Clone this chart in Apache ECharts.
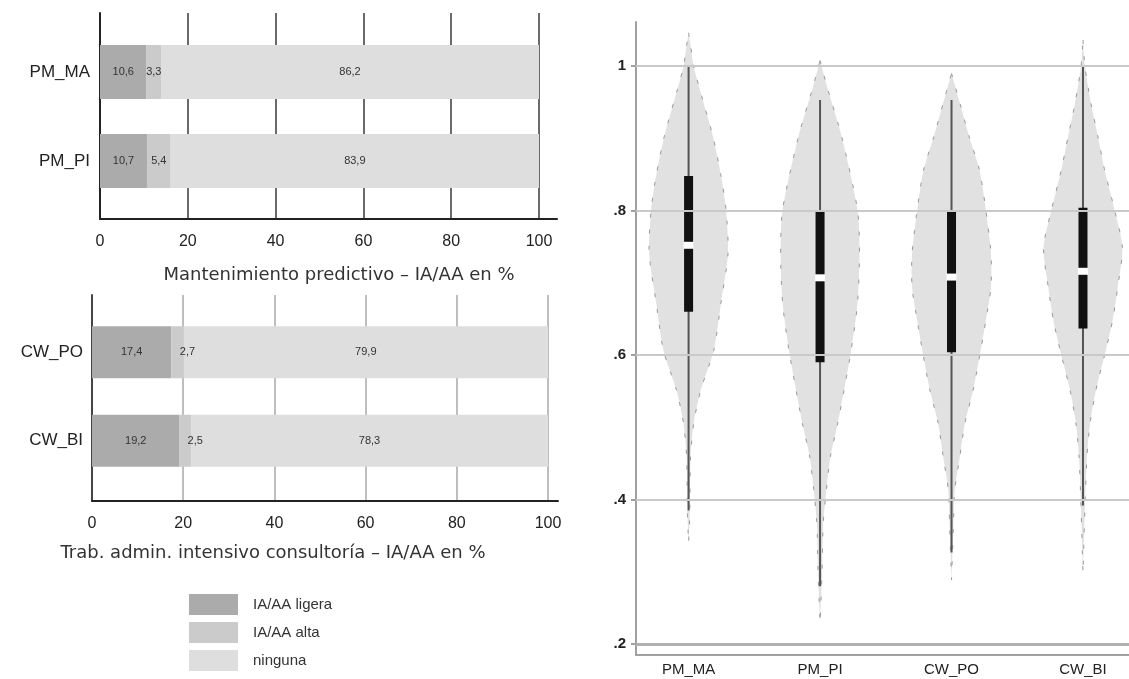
<!DOCTYPE html>
<html>
<head>
<meta charset="utf-8">
<script src="https://cdn.jsdelivr.net/npm/echarts@6/dist/echarts.min.js"></script>
<style>
html, body { margin: 0; padding: 0; background: #fff; }
#chart { width: 1129px; height: 679px; }
</style>
</head>
<body>
<div id="chart"></div>
<script>
// barras - mantenimiento predictivo
var catsPM = ["PM_MA", "PM_PI"];
var ligeraPM = [10.6, 10.7];
var altaPM = [3.3, 5.4];
var ningunaPM = [86.2, 83.9];

// barras - trabajo administrativo
var catsCW = ["CW_PO", "CW_BI"];
var ligeraCW = [17.4, 19.2];
var altaCW = [2.7, 2.5];
var ningunaCW = [79.9, 78.3];

// violines
var violinCats = ["PM_MA", "PM_PI", "CW_PO", "CW_BI"];
var q1 = [0.660, 0.590, 0.604, 0.637];
var medians = [0.752, 0.707, 0.708, 0.716];
var q3 = [0.848, 0.801, 0.801, 0.804];
var whiskLo = [0.385, 0.280, 0.327, 0.392];
var whiskHi = [1.0, 0.953, 0.953, 1.0];
// perfil de densidad (y, ancho relativo)
var densY = [
  [1.046, 1.029, 0.999, 0.953, 0.902, 0.849, 0.801, 0.741, 0.672, 0.607, 0.552, 0.506, 0.459, 0.381, 0.340],
  [1.008, 0.971, 0.902, 0.801, 0.741, 0.672, 0.607, 0.552, 0.506, 0.459, 0.413, 0.367, 0.298, 0.229],
  [0.990, 0.949, 0.902, 0.856, 0.801, 0.741, 0.694, 0.648, 0.607, 0.552, 0.506, 0.459, 0.413, 0.367, 0.289],
  [1.036, 0.999, 0.949, 0.902, 0.856, 0.801, 0.749, 0.694, 0.648, 0.607, 0.552, 0.506, 0.459, 0.390, 0.298]
];
var densW = [
  [0, 0.05, 0.13, 0.36, 0.62, 0.82, 0.95, 1, 0.82, 0.64, 0.31, 0.13, 0.05, 0.03, 0],
  [0, 0.18, 0.55, 0.95, 1, 0.95, 0.79, 0.61, 0.45, 0.26, 0.16, 0.08, 0.05, 0],
  [0, 0.21, 0.45, 0.71, 0.87, 1, 1, 0.87, 0.74, 0.55, 0.34, 0.21, 0.08, 0.05, 0],
  [0, 0.05, 0.2, 0.38, 0.55, 0.8, 1, 0.88, 0.75, 0.58, 0.33, 0.18, 0.1, 0.05, 0]
];
var yTicks = [0.2, 0.4, 0.6, 0.8, 1];

var FONT = "Liberation Sans, Arial, sans-serif";
var colLigera = "#ababab", colAlta = "#cbcbcb", colNinguna = "#dedede";
var halfMax = 0.3;

var chart = echarts.init(document.getElementById("chart"));

function coma(p) {
  return String(p.value).replace(".", ",");
}

function frameX(gridIndex, gridColor) {
  return {
    gridIndex: gridIndex, type: "value", min: 0, max: 100, interval: 20,
    axisLine: { show: false },
    axisTick: { show: false },
    axisLabel: { fontSize: 16, color: "#222", fontFamily: FONT, margin: 15 },
    splitLine: { show: true, lineStyle: { color: gridColor, width: 1.5 } }
  };
}
function frameY(gridIndex, color) {
  return {
    gridIndex: gridIndex, type: "value", min: 0, max: 1,
    axisLine: { show: true, lineStyle: { color: color, width: 2 } },
    axisTick: { show: false }, axisLabel: { show: false }, splitLine: { show: false }
  };
}
// solo la linea base, algo mas larga que la escala
function baseX(gridIndex) {
  return {
    gridIndex: gridIndex, type: "value", min: 0, max: 1,
    axisLine: { show: true, lineStyle: { color: "#222", width: 2 } },
    axisTick: { show: false }, axisLabel: { show: false }, splitLine: { show: false }
  };
}
function hiddenY(gridIndex) {
  return { gridIndex: gridIndex, type: "value", show: false };
}
function catY(gridIndex, cats, margin) {
  return {
    gridIndex: gridIndex, type: "category", inverse: true, data: cats,
    axisLine: { show: false }, axisTick: { show: false },
    axisLabel: { fontSize: 17, color: "#222", fontFamily: FONT, margin: margin }
  };
}
function barSeries(name, stack, axis, data, color, width, offset) {
  return {
    name: name, type: "bar", stack: stack, xAxisIndex: axis, yAxisIndex: axis,
    barWidth: width, data: data, itemStyle: { color: color },
    label: {
      show: true, position: "inside", fontSize: 11, color: "#333", fontFamily: FONT,
      formatter: coma, offset: offset || [0, 0]
    }
  };
}

function renderViolin(params, api) {
  var i = params.dataIndex;
  var xc = api.value(0);
  var ys = densY[i], ws = densW[i];
  var right = [], left = [];
  for (var k = 0; k < ys.length; k++) {
    right.push(api.coord([xc + ws[k] * halfMax, ys[k]]));
    left.unshift(api.coord([xc - ws[k] * halfMax, ys[k]]));
  }
  var lo = api.coord([xc, api.value(1)]);
  var b1 = api.coord([xc, api.value(2)]);
  var md = api.coord([xc, api.value(3)]);
  var b3 = api.coord([xc, api.value(4)]);
  var hi = api.coord([xc, api.value(5)]);
  return {
    type: "group",
    children: [
      { type: "polygon", shape: { points: right.concat(left), smooth: 0.25 },
        style: { fill: "#e1e1e1", stroke: "#9a9a9a", lineWidth: 1, lineDash: [4, 12] } },
      { type: "line", shape: { x1: hi[0], y1: hi[1], x2: lo[0], y2: lo[1] },
        style: { stroke: "#555", lineWidth: 2 } },
      { type: "rect", shape: { x: b3[0] - 4.5, y: b3[1], width: 9, height: b1[1] - b3[1] },
        style: { fill: "#111" } },
      { type: "rect", shape: { x: md[0] - 5, y: md[1] - 3.5, width: 10, height: 7 },
        style: { fill: "#fff" } }
    ]
  };
}

chart.setOption({
  animation: false,
  backgroundColor: "#fff",
  grid: [
    { left: 100, top: 13, width: 439, height: 206 },
    { left: 100, top: 27.5, width: 439, height: 178 },
    { left: 92, top: 295, width: 456, height: 206 },
    { left: 92, top: 308, width: 456, height: 177 },
    { left: 636, top: 22, right: 0, height: 633 },
    { left: 100, top: 13, width: 457, height: 206 },
    { left: 92, top: 295, width: 466, height: 206 }
  ],
  xAxis: [
    frameX(0, "#3a3a3a"),
    { gridIndex: 1, type: "value", min: 0, max: 100, show: false },
    frameX(2, "#a8a8a8"),
    { gridIndex: 3, type: "value", min: 0, max: 100, show: false },
    {
      gridIndex: 4, type: "value", min: 0.6, max: 4.35,
      axisLine: { lineStyle: { color: "#a0a0a0", width: 2 } },
      axisTick: { show: false }, splitLine: { show: false },
      axisLabel: {
        customValues: [1, 2, 3, 4], fontSize: 15, color: "#222", fontFamily: FONT, margin: 7,
        formatter: function (v) { return violinCats[Math.round(v) - 1]; }
      }
    },
    baseX(5),
    baseX(6)
  ],
  yAxis: [
    frameY(0, "#222"),
    catY(1, catsPM, 10),
    frameY(2, "#444"),
    catY(3, catsCW, 9),
    {
      gridIndex: 4, type: "value", min: 0.185, max: 1.061,
      axisLine: { show: true, lineStyle: { color: "#a0a0a0", width: 2 } },
      axisTick: { show: true, customValues: yTicks, length: 5, lineStyle: { color: "#a0a0a0", width: 2 } },
      splitLine: { show: false },
      axisLabel: {
        customValues: yTicks, fontSize: 15, fontWeight: "bold", color: "#222", fontFamily: FONT, margin: 10,
        formatter: function (v) { return v === 1 ? "1" : String(v).replace("0.", "."); }
      }
    },
    hiddenY(5),
    hiddenY(6)
  ],
  legend: {
    orient: "vertical", left: 189, top: 594, padding: 0,
    itemWidth: 49, itemHeight: 21, itemGap: 7, icon: "rect",
    data: ["IA/AA ligera", "IA/AA alta", "ninguna"],
    textStyle: { fontSize: 15, color: "#333", fontFamily: FONT, padding: [0, 0, 0, 10] }
  },
  graphic: [
    { type: "text", x: 339, y: 275, style: { text: "Mantenimiento predictivo \u2013 IA/AA en %", align: "center", verticalAlign: "middle", font: "18px DejaVu Sans, sans-serif", fill: "#333" } },
    { type: "text", x: 273, y: 553, style: { text: "Trab. admin. intensivo consultor\u00eda \u2013 IA/AA en %", align: "center", verticalAlign: "middle", font: "18px DejaVu Sans, sans-serif", fill: "#333" } }
  ],
  series: [
    barSeries("IA/AA ligera", "pm", 1, ligeraPM, colLigera, 54),
    barSeries("IA/AA alta", "pm", 1, altaPM, colAlta, 54),
    barSeries("ninguna", "pm", 1, ningunaPM, colNinguna, 54),
    barSeries("IA/AA ligera", "cw", 3, ligeraCW, colLigera, 52),
    barSeries("IA/AA alta", "cw", 3, altaCW, colAlta, 52, [10, 0]),
    barSeries("ninguna", "cw", 3, ningunaCW, colNinguna, 52),
    {
      type: "line", xAxisIndex: 4, yAxisIndex: 4, data: [], silent: true, z: 1,
      markLine: {
        silent: true, symbol: "none", label: { show: false },
        data: yTicks.map(function (v) {
          return { yAxis: v, lineStyle: { type: "solid", color: v === 0.2 ? "#b0b0b0" : "#c9c9c9", width: v === 0.2 ? 3 : 2 } };
        })
      }
    },
    {
      type: "custom", xAxisIndex: 4, yAxisIndex: 4, z: 3,
      renderItem: renderViolin,
      encode: { x: 0, y: [1, 2, 3, 4, 5] },
      data: violinCats.map(function (c, i) {
        return [i + 1, whiskLo[i], q1[i], medians[i], q3[i], whiskHi[i]];
      })
    }
  ]
});
</script>
</body>
</html>
